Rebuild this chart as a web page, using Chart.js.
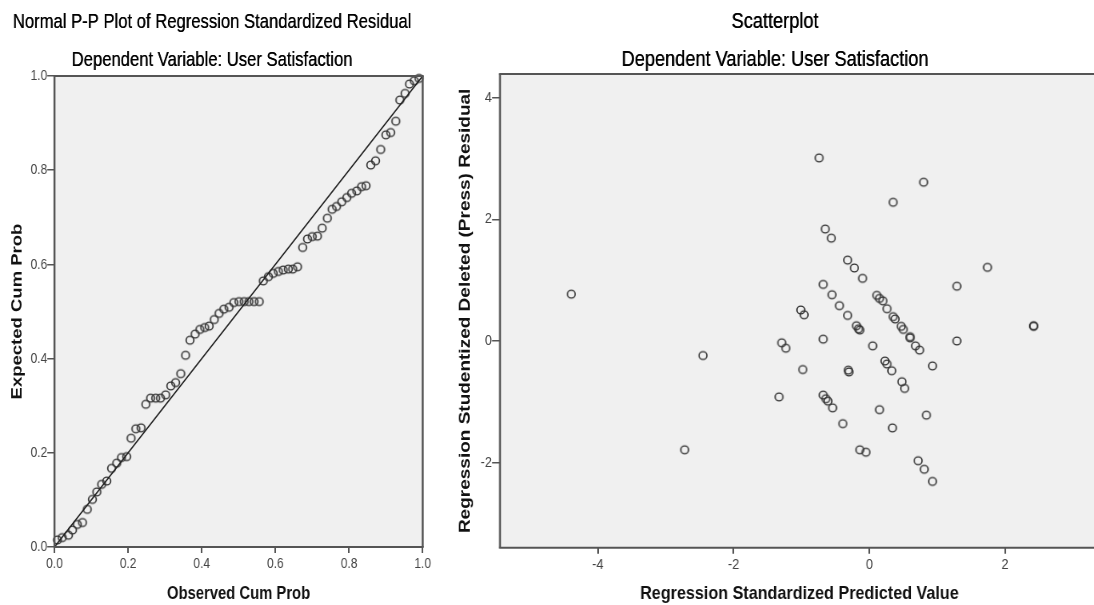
<!DOCTYPE html>
<html>
<head>
<meta charset="utf-8">
<script src="https://cdn.jsdelivr.net/npm/chart.js@4.4.1/dist/chart.umd.min.js"></script>
<style>
  body { margin: 0; background: #fff; width: 1094px; height: 605px; overflow: hidden; position: relative; }
  canvas { position: absolute; top: 0; transform-origin: 0 0; }
  #ppChart { left: 0; transform: scaleX(0.8); }
  #scatterChart { left: 440px; transform: scaleX(0.85); }
</style>
</head>
<body>
<canvas id="ppChart" width="550" height="605"></canvas>
<canvas id="scatterChart" width="780" height="605"></canvas>
<script>
// Normal P-P plot data
const obsCumProb = [0.008,0.021,0.038,0.049,0.062,0.076,0.089,0.103,0.115,0.128,0.142,0.155,0.169,0.182,0.196,
  0.208,0.221,0.235,0.248,0.261,0.275,0.288,0.302,0.316,0.329,0.343,0.356,0.368,0.382,0.395,
  0.408,0.420,0.434,0.447,0.460,0.474,0.487,0.501,0.515,0.528,0.542,0.556,
  0.567,0.581,0.594,0.608,0.621,0.635,0.647,0.660,
  0.674,0.687,0.700,0.714,0.727,0.741,0.754,0.766,0.780,0.794,0.807,0.821,0.834,0.846,
  0.859,0.872,0.886,0.900,0.913,0.927,0.938,0.952,0.964,0.977,0.990];
const expCumProb = [0.015,0.020,0.025,0.036,0.048,0.052,0.080,0.101,0.117,0.133,0.140,0.167,0.178,0.190,0.192,
  0.231,0.251,0.253,0.303,0.316,0.316,0.316,0.323,0.342,0.349,0.368,0.407,0.439,0.452,0.462,
  0.466,0.469,0.483,0.496,0.505,0.509,0.519,0.521,0.521,0.521,0.521,0.521,
  0.565,0.574,0.581,0.585,0.588,0.590,0.590,0.595,
  0.636,0.654,0.659,0.660,0.677,0.698,0.717,0.723,0.733,0.742,0.751,0.756,0.765,0.767,
  0.811,0.820,0.844,0.875,0.880,0.904,0.949,0.963,0.983,0.990,0.995];
const ppTicks = [0, 0.2, 0.4, 0.6, 0.8, 1.0];

// Scatterplot data
const predValue = [-4.39,-2.45,-2.72,-0.74,0.80,0.35,-0.65,-0.56,-0.32,-0.22,-0.10,1.74,1.29,-0.68,-0.55,-0.44,
  -0.32,-1.01,-0.96,0.11,0.15,0.20,0.26,0.35,0.38,0.47,0.50,0.60,0.60,-0.19,-0.16,-0.14,2.42,2.42,
  -1.29,-1.23,-0.68,-0.98,-0.31,-0.30,0.05,0.23,0.26,0.33,0.48,0.52,1.29,0.93,0.68,0.74,
  -1.33,-0.68,-0.64,-0.61,-0.54,-0.39,0.15,0.84,0.34,-0.14,-0.05,0.72,0.81,0.93];
const pressResid = [0.77,-0.24,-1.79,3.01,2.61,2.28,1.84,1.69,1.33,1.20,1.03,1.21,0.90,0.93,0.76,0.58,
  0.42,0.51,0.43,0.75,0.70,0.66,0.53,0.40,0.36,0.24,0.19,0.07,0.05,0.25,0.20,0.18,0.25,0.24,
  -0.03,-0.12,0.03,-0.47,-0.48,-0.51,-0.08,-0.33,-0.38,-0.49,-0.67,-0.78,0.00,-0.41,-0.08,-0.15,
  -0.92,-0.89,-0.95,-0.99,-1.10,-1.36,-1.13,-1.22,-1.43,-1.79,-1.83,-1.97,-2.11,-2.31];
const scatterXTicks = [-4, -2, 0, 2];
const scatterYTicks = [-2, 0, 2, 4];

// the reference is squeezed sideways, so each canvas is drawn wide and scaled by CSS
const SX_PP = 0.8;
const SX_SC = 0.85;
const FONT = '"Liberation Sans", Arial, sans-serif';

function ringMarker(sx) {
  const c = document.createElement('canvas');
  c.width = 15; c.height = 12;
  const g = c.getContext('2d');
  g.setTransform(1 / sx, 0, 0, 1, 7.5, 6);
  g.beginPath();
  g.arc(0, 0, 3.9, 0, Math.PI * 2);
  g.lineWidth = 1.4;
  g.strokeStyle = '#333';
  g.stroke();
  return c;
}

function framePlugin(lines, fontSize, drawRight) {
  return {
    id: 'frame',
    beforeDraw(chart) {
      const { ctx, chartArea: a } = chart;
      ctx.save();
      ctx.fillStyle = '#f0f0f0';
      ctx.fillRect(a.left, a.top, a.right - a.left, a.bottom - a.top);
      ctx.restore();
    },
    afterDraw(chart) {
      const { ctx, chartArea: a } = chart;
      ctx.save();
      ctx.strokeStyle = '#555';
      ctx.lineWidth = 2;
      ctx.beginPath();
      ctx.moveTo(a.left - 1.25, a.top); ctx.lineTo(a.right + 1.25, a.top);
      ctx.moveTo(a.left - 1.25, a.bottom); ctx.lineTo(a.right + 1.25, a.bottom);
      ctx.stroke();
      ctx.lineWidth = 2.5;
      ctx.beginPath();
      ctx.moveTo(a.left, a.top); ctx.lineTo(a.left, a.bottom);
      if (drawRight) { ctx.moveTo(a.right, a.top); ctx.lineTo(a.right, a.bottom); }
      ctx.stroke();

      // chart titles
      ctx.fillStyle = '#000';
      ctx.font = fontSize + 'px ' + FONT;
      ctx.textAlign = 'center';
      ctx.textBaseline = 'middle';
      lines.forEach(l => {
        ctx.fillText(l.text, l.x, l.y);
        ctx.fillText(l.text, l.x + 0.35, l.y);
      });
      ctx.restore();
    }
  };
}

function axis(opt) {
  const isX = opt.isX;
  return {
    type: 'linear', min: opt.min, max: opt.max,
    afterFit: s => { if (isX) s.height = opt.size; else s.width = opt.size; },
    afterBuildTicks: s => { s.ticks = opt.ticks.map(v => ({ value: v })); },
    ticks: { callback: opt.fmt, color: '#444', font: { family: FONT, size: 15 }, padding: isX ? 2 : 0, maxRotation: 0, autoSkip: false },
    grid: { drawOnChartArea: false, drawTicks: true, tickLength: opt.tickLength, color: '#555', lineWidth: isX ? 2 : 1.5 },
    border: { display: false },
    title: { display: true, text: opt.title, font: { family: FONT, size: opt.titleSize, weight: 'bold' }, color: '#111', padding: opt.titlePad }
  };
}

const fmt1 = v => v.toFixed(1);

new Chart(document.getElementById('ppChart'), {
  type: 'scatter',
  data: {
    datasets: [{
      type: 'line',
      data: [{ x: 0, y: 0 }, { x: 1, y: 1 }],
      borderColor: '#222',
      borderWidth: 1.6,
      pointRadius: 0
    }, {
      data: obsCumProb.map((x, i) => ({ x: x, y: expCumProb[i] })),
      pointStyle: ringMarker(SX_PP),
      pointRadius: 4,
      clip: false
    }]
  },
  options: {
    responsive: false, animation: false, events: [],
    layout: { padding: { left: 0, top: 76, right: 21.6, bottom: 0 } },
    plugins: { legend: { display: false }, tooltip: { enabled: false } },
    scales: {
      x: axis({ isX: true, min: 0, max: 1, ticks: ppTicks, fmt: fmt1, title: 'Observed Cum Prob',
        size: 58, tickLength: 6, titleSize: 18.5, titlePad: { top: 0, bottom: 0 } }),
      y: axis({ isX: false, min: 0, max: 1, ticks: ppTicks, fmt: fmt1, title: 'Expected Cum Prob',
        size: 68.1, tickLength: 9, titleSize: 18.5, titlePad: { top: 11, bottom: 0 } })
    }
  },
  plugins: [framePlugin([
    { text: 'Normal P-P Plot of Regression Standardized Residual', x: 265, y: 22.5 },
    { text: 'Dependent Variable: User Satisfaction', x: 265, y: 60 }
  ], 20.8, true)]
});

new Chart(document.getElementById('scatterChart'), {
  type: 'scatter',
  data: {
    datasets: [{
      data: predValue.map((x, i) => ({ x: x, y: pressResid[i] })),
      pointStyle: ringMarker(SX_SC),
      pointRadius: 4,
      clip: false
    }]
  },
  options: {
    responsive: false, animation: false, events: [],
    layout: { padding: { left: 0, top: 74, right: 0, bottom: 0 } },
    plugins: { legend: { display: false }, tooltip: { enabled: false } },
    scales: {
      x: axis({ isX: true, min: -5.44, max: 3.38, ticks: scatterXTicks, fmt: v => String(v),
        title: 'Regression Standardized Predicted Value', size: 57.3, tickLength: 6, titleSize: 19,
        titlePad: { top: 0, bottom: 0 } }),
      y: axis({ isX: false, min: -3.4, max: 4.39, ticks: scatterYTicks, fmt: v => String(v),
        title: 'Regression Studentized Deleted (Press) Residual', size: 70.6, tickLength: 9.4, titleSize: 19,
        titlePad: { top: 18.6, bottom: 0 } })
    }
  },
  plugins: [framePlugin([
    { text: 'Scatterplot', x: 394, y: 22 },
    { text: 'Dependent Variable: User Satisfaction', x: 394, y: 60 }
  ], 21.4, false)]
});
</script>
</body>
</html>
